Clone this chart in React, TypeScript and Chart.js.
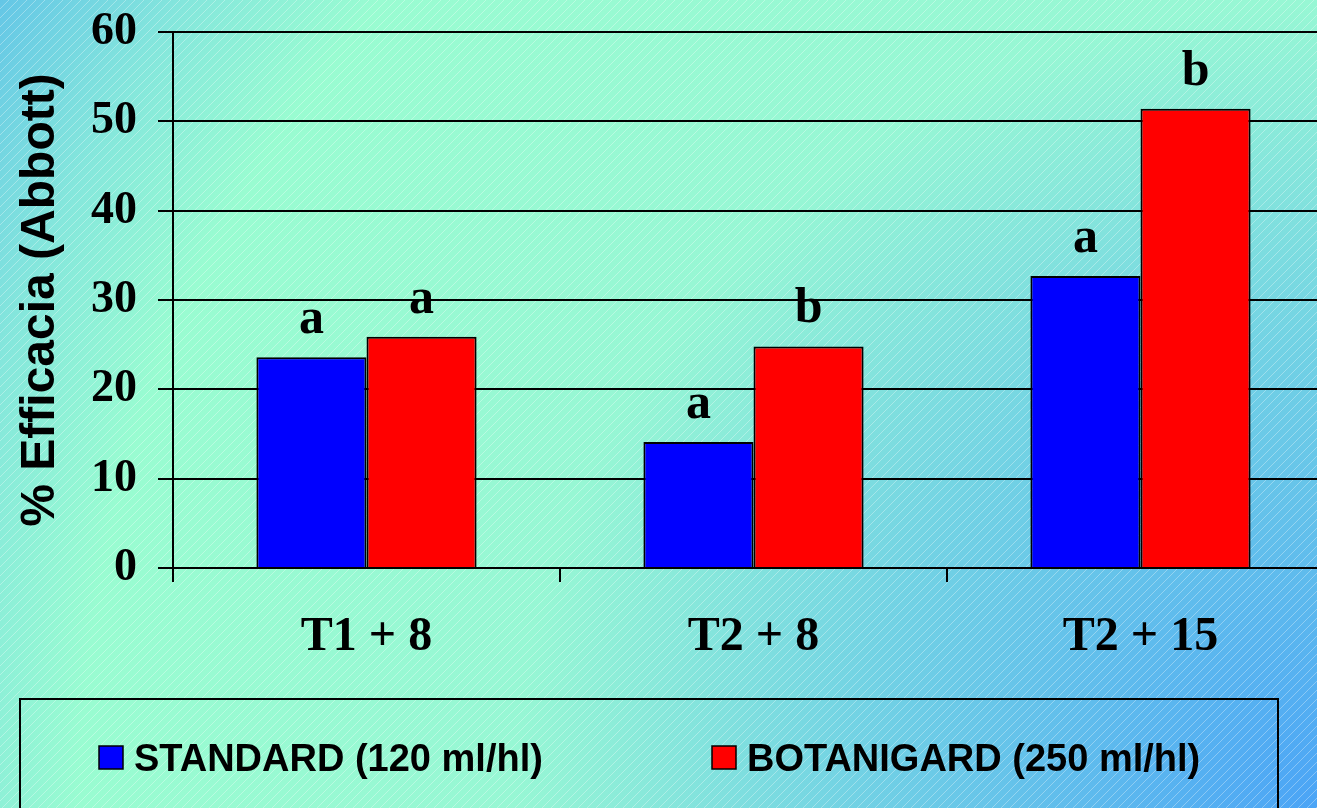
import React, { useEffect, useRef } from "react";
import { Chart, registerables } from "chart.js";

Chart.register(...registerables);

const categories = ["T1 + 8", "T2 + 8", "T2 + 15"];
const standardValues = [23.6, 14.1, 32.7];
const botanigardValues = [25.9, 24.8, 51.4];
const standardLetters = ["a", "a", "a"];
const botanigardLetters = ["a", "b", "b"];
const seriesLabels = ["STANDARD (120 ml/hl)", "BOTANIGARD (250 ml/hl)"];
const seriesColors = ["#0000FF", "#FF0000"];
const yMin = 0;
const yMax = 60;
const yStep = 10;
const yTitle = "% Efficacia (Abbott)";

const VIEW_W = 1317;
const VIEW_H = 808;
const CANVAS_W = 1340;

const backgroundPlugin = {
  id: "bgPlugin",
  beforeDraw(chart: any) {
    const { ctx } = chart;
    ctx.save();
    const g = ctx.createRadialGradient(VIEW_W, VIEW_H, 0, VIEW_W, VIEW_H, 1546);
    g.addColorStop(0, "#4ba4f6");
    g.addColorStop(0.3, "#72d2e4");
    g.addColorStop(0.52, "#97f7d4");
    g.addColorStop(0.8, "#99fcd1");
    g.addColorStop(0.9, "#84e6dc");
    g.addColorStop(1, "#64c6e6");
    ctx.fillStyle = g;
    ctx.fillRect(0, 0, chart.width, chart.height);
    ctx.strokeStyle = "rgba(255,255,255,0.32)";
    ctx.lineWidth = 1;
    ctx.beginPath();
    for (let c = -VIEW_H; c < chart.width + VIEW_H; c += 9) {
      ctx.moveTo(c, VIEW_H);
      ctx.lineTo(c + VIEW_H, 0);
    }
    ctx.stroke();
    ctx.restore();
  },
};

const lettersPlugin = {
  id: "lettersPlugin",
  afterDatasetsDraw(chart: any) {
    const { ctx } = chart;
    ctx.save();
    ctx.font = 'bold 50px "Liberation Serif", "Times New Roman", serif';
    ctx.fillStyle = "#000";
    ctx.textAlign = "center";
    ctx.textBaseline = "alphabetic";
    chart.data.datasets.forEach((ds: any, i: number) => {
      const meta = chart.getDatasetMeta(i);
      meta.data.forEach((bar: any, j: number) => {
        const t = ds.letters[j];
        if (t) ctx.fillText(t, bar.x, bar.y - 24);
      });
    });
    ctx.restore();
  },
};

const legendPlugin = {
  id: "boxLegend",
  afterDraw(chart: any) {
    const { ctx } = chart;
    ctx.save();
    ctx.strokeStyle = "#000";
    ctx.lineWidth = 2;
    ctx.strokeRect(20, 699, 1258, 140);
    const itemX = [99, 712];
    ctx.font = 'bold 38px "Liberation Sans", Arial, sans-serif';
    ctx.textBaseline = "alphabetic";
    ctx.textAlign = "left";
    chart.data.datasets.forEach((ds: any, i: number) => {
      const x = itemX[i];
      ctx.fillStyle = ds.backgroundColor;
      ctx.fillRect(x, 746, 24, 23);
      ctx.lineWidth = 1.5;
      ctx.strokeStyle = "#000";
      ctx.strokeRect(x, 746, 24, 23);
      ctx.fillStyle = "#000";
      ctx.fillText(ds.label, x + 35, 771);
    });
    ctx.restore();
  },
};

export default function App() {
  const canvasRef = useRef<HTMLCanvasElement | null>(null);

  useEffect(() => {
    const canvas = canvasRef.current;
    if (!canvas) return;
    const chart = new Chart(canvas, {
      type: "bar",
      data: {
        labels: categories,
        datasets: [
          {
            label: seriesLabels[0],
            data: standardValues,
            backgroundColor: seriesColors[0],
            borderColor: "#000",
            borderWidth: 2,
            letters: standardLetters,
          } as any,
          {
            label: seriesLabels[1],
            data: botanigardValues,
            backgroundColor: seriesColors[1],
            borderColor: "#000",
            borderWidth: 2,
            letters: botanigardLetters,
          } as any,
        ],
      },
      options: {
        animation: false,
        responsive: false,
        devicePixelRatio: 1,
        layout: { padding: { top: 32, left: 0, right: CANVAS_W - 1334, bottom: 0 } },
        datasets: { bar: { categoryPercentage: 0.569, barPercentage: 1.0 } },
        plugins: {
          legend: { display: false },
          tooltip: { enabled: false },
        },
        scales: {
          x: {
            grid: {
              drawOnChartArea: false,
              drawTicks: true,
              tickLength: 14,
              color: "#000",
              lineWidth: 2,
              offset: true,
            },
            border: { color: "#000", width: 2 },
            ticks: {
              color: "#000",
              padding: 27,
              font: { family: '"Liberation Serif", "Times New Roman", serif', size: 48, weight: "bold" },
            },
            afterFit: (s: any) => {
              s.height = VIEW_H - 568;
              s.paddingLeft = 0;
              s.paddingRight = 0;
            },
          },
          y: {
            min: yMin,
            max: yMax,
            grid: { color: "#000", lineWidth: 2, tickLength: 15 },
            border: { color: "#000", width: 2 },
            ticks: {
              stepSize: yStep,
              color: "#000",
              padding: 21,
              font: { family: '"Liberation Serif", "Times New Roman", serif', size: 46, weight: "bold" },
            },
            title: {
              display: true,
              text: yTitle,
              color: "#000",
              padding: { top: 12, bottom: 0 },
              font: { family: '"Liberation Sans", Arial, sans-serif', size: 48, weight: "bold" },
            },
            afterFit: (s: any) => {
              s.width = 173;
              s.paddingTop = 0;
              s.paddingBottom = 0;
            },
          },
        },
      } as any,
      plugins: [backgroundPlugin, lettersPlugin, legendPlugin],
    });
    return () => chart.destroy();
  }, []);

  return (
    <div
      style={{
        position: "fixed",
        left: 0,
        top: 0,
        width: VIEW_W,
        height: VIEW_H,
        overflow: "hidden",
      }}
    >
      <canvas
        ref={canvasRef}
        width={CANVAS_W}
        height={VIEW_H}
        style={{ display: "block", width: CANVAS_W, height: VIEW_H }}
      />
    </div>
  );
}
